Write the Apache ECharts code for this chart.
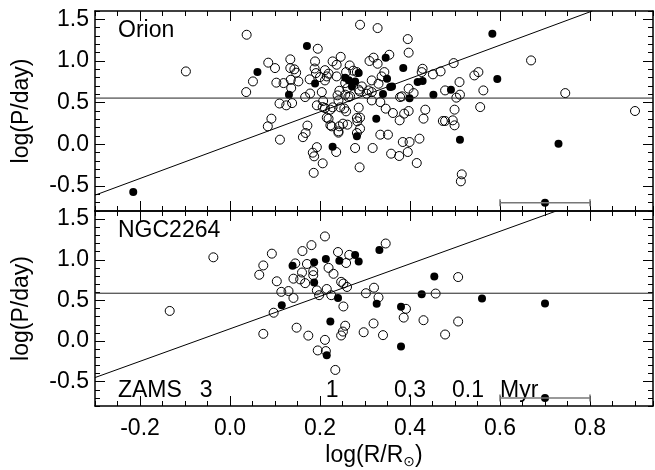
<!DOCTYPE html>
<html>
<head>
<meta charset="utf-8">
<script src="https://cdn.jsdelivr.net/npm/echarts@6/dist/echarts.min.js"></script>
<style>
  html, body { margin: 0; padding: 0; background: #fff; }
  #chart { width: 655px; height: 470px; }
</style>
</head>
<body>
<div id="chart"></div>
<script>
// log(R/Rsun), log(P/day)
const orionOpen = [[-0.098,0.875],[0.037,1.315],[0.036,0.627],[0.051,0.755],[0.085,0.98],[0.1,0.915],[0.103,0.74],[0.119,0.735],[0.134,1.02],[0.134,0.915],[0.143,0.9],[0.147,0.86],[0.135,0.775],[0.152,0.755],[0.136,0.675],[0.11,0.49],[0.125,0.468],[0.138,0.495],[0.092,0.308],[0.084,0.216],[0.111,0.056],[0.172,0.225],[0.168,0.136],[0.162,0.086],[0.193,-0.034],[0.184,-0.1],[0.187,-0.144],[0.206,-0.228],[0.186,-0.342],[0.195,1.147],[0.189,0.995],[0.188,0.91],[0.191,0.855],[0.177,0.78],[0.167,0.567],[0.178,0.61],[0.204,0.627],[0.207,0.52],[0.193,0.468],[0.206,0.447],[0.2,0.807],[0.215,0.32],[0.223,0.228],[0.211,0.435],[0.223,0.416],[0.241,0.156],[0.236,-0.092],[0.246,1.05],[0.237,0.955],[0.228,0.995],[0.266,0.947],[0.274,0.884],[0.211,0.89],[0.215,0.815],[0.237,0.815],[0.219,0.848],[0.211,0.767],[0.256,0.735],[0.261,0.675],[0.243,0.643],[0.239,0.588],[0.256,0.596],[0.267,0.576],[0.228,0.444],[0.245,0.444],[0.254,0.43],[0.226,0.216],[0.243,0.216],[0.261,0.236],[0.251,0.248],[0.282,0.316],[0.282,0.136],[0.278,-0.044],[0.288,-0.276],[0.288,0.636],[0.289,1.435],[0.328,1.395],[0.395,1.263],[0.397,1.1],[0.354,1.075],[0.31,1.0],[0.319,1.04],[0.328,0.967],[0.258,0.867],[0.282,0.867],[0.286,0.656],[0.293,0.695],[0.315,0.767],[0.308,0.647],[0.304,0.607],[0.343,0.867],[0.337,0.815],[0.33,0.727],[0.315,0.627],[0.263,0.567],[0.241,0.527],[0.258,0.396],[0.286,0.44],[0.289,0.32],[0.219,0.308],[0.241,0.14],[0.315,0.527],[0.334,0.507],[0.346,0.428],[0.362,0.376],[0.377,0.288],[0.387,0.368],[0.397,0.4],[0.378,0.567],[0.397,0.668],[0.408,0.615],[0.382,0.576],[0.434,0.416],[0.43,0.308],[0.317,-0.044],[0.334,0.116],[0.351,0.116],[0.358,-0.112],[0.376,-0.14],[0.395,-0.092],[0.384,0.028],[0.399,0.028],[0.421,0.068],[0.415,-0.224],[0.428,0.907],[0.426,0.867],[0.451,0.84],[0.468,0.875],[0.497,0.975],[0.478,0.647],[0.51,0.747],[0.511,0.596],[0.503,0.56],[0.499,0.416],[0.473,0.28],[0.478,0.28],[0.495,0.288],[0.499,0.228],[0.515,-0.36],[0.513,-0.444],[0.543,0.827],[0.552,0.867],[0.563,0.647],[0.556,0.447],[0.669,1.007],[0.745,0.615],[0.9,0.4],[0.289,0.188],[0.283,0.276]];
const orionFilled = [[-0.215,-0.572],[0.061,0.867],[0.131,0.594],[0.171,1.18],[0.189,0.73],[0.228,-0.028],[0.256,0.8],[0.264,0.77],[0.278,0.755],[0.271,0.695],[0.286,0.855],[0.282,0.096],[0.346,1.04],[0.385,0.915],[0.34,0.605],[0.349,0.787],[0.356,0.687],[0.36,0.695],[0.399,0.552],[0.325,0.308],[0.417,0.747],[0.428,0.759],[0.452,0.596],[0.491,0.656],[0.511,0.056],[0.583,1.327],[0.594,0.783],[0.73,0.008]];
const ngcOpen = [[-0.134,0.37],[-0.037,1.03],[0.065,0.815],[0.074,0.93],[0.093,1.075],[0.104,0.735],[0.114,0.605],[0.13,0.615],[0.141,0.53],[0.097,0.348],[0.074,0.088],[0.148,0.164],[0.174,0.066],[0.195,-0.116],[0.211,0.014],[0.213,-0.124],[0.234,-0.356],[0.145,0.955],[0.171,0.948],[0.161,1.107],[0.181,1.18],[0.211,1.287],[0.24,1.095],[0.16,0.843],[0.141,0.767],[0.156,0.758],[0.167,0.712],[0.185,0.86],[0.185,0.81],[0.219,0.9],[0.23,0.827],[0.247,0.728],[0.252,0.707],[0.26,0.665],[0.193,0.623],[0.198,0.564],[0.215,0.64],[0.225,0.564],[0.252,0.425],[0.258,0.96],[0.265,1.06],[0.302,0.588],[0.32,0.656],[0.33,0.536],[0.346,1.2],[0.391,0.396],[0.386,0.288],[0.43,0.256],[0.507,0.24],[0.457,0.584],[0.507,0.787],[0.319,0.216],[0.297,0.108],[0.34,0.072],[0.478,0.08],[0.256,0.188],[0.251,0.116],[0.247,0.068]];
const ngcFilled = [[0.115,0.44],[0.139,0.925],[0.187,0.97],[0.213,1.01],[0.243,0.987],[0.278,1.06],[0.286,0.978],[0.332,1.12],[0.187,0.72],[0.24,0.528],[0.223,0.24],[0.215,-0.175],[0.326,0.459],[0.38,0.423],[0.38,-0.068],[0.426,0.576],[0.454,0.795],[0.56,0.522],[0.7,0.463]];

// reference lines (endpoints) and the typical error bar
const orionFlat = [[-0.3,0.555],[0.94,0.555]];
const orionFit = [[-0.3,-0.61],[0.805,1.6]];
const ngcFlat = [[-0.3,0.588],[0.94,0.588]];
const ngcFit = [[-0.3,-0.45],[0.725,1.6]];
const errBar = [[0.6,-0.7],[0.8,-0.7]];
const errPoint = [[0.7,-0.7]];

// isochrone ages written along the bottom of the NGC2264 panel
const ageText = ['ZAMS', '3', '1', '0.3', '0.1', 'Myr'];
const ageX = [-0.249, -0.053, 0.227, 0.4, 0.529, 0.6];
const ageAlign = ['left', 'center', 'center', 'center', 'center', 'left'];
const ageY = -0.615;

const xTicks = [-0.2, 0.0, 0.2, 0.4, 0.6, 0.8];
const yTicks = [-0.5, 0.0, 0.5, 1.0, 1.5];
const panelNames = ['Orion', 'NGC2264'];

const FONT = 'Liberation Sans, Arial, Helvetica, sans-serif';
const FS = 23;
const black = '#000';

var dom = document.getElementById('chart');
var myChart = echarts.init(dom, null, { renderer: 'canvas' });

function xAxesFor(g) {
  const base = { gridIndex: g, type: 'value', min: -0.3, max: 0.94, splitLine: { show: false } };
  const minor = { inside: true, length: 5, lineStyle: { color: black, width: 1 } };
  const major = { inside: true, length: 10, customValues: xTicks, lineStyle: { color: black, width: 1 } };
  return [
    Object.assign({}, base, {
      position: 'bottom', interval: 0.05,
      axisLine: { onZero: false, lineStyle: { color: black, width: 1.5 } },
      axisTick: minor,
      axisLabel: g === 1 ? {
        customValues: xTicks, fontSize: FS, color: black, fontFamily: FONT, margin: 11,
        formatter: v => v.toFixed(1)
      } : { show: false },
      name: g === 1 ? '{a|log(R/R}{s|⊙}{a|)}' : '',
      nameLocation: 'middle', nameGap: 36,
      nameTextStyle: {
        rich: {
          a: { fontSize: FS, fontFamily: FONT, color: black, lineHeight: 24 },
          s: { fontSize: 14, fontFamily: 'DejaVu Sans', color: black, padding: [13, 0, 0, 0] }
        }
      }
    }),
    Object.assign({}, base, {
      position: 'top', interval: 0.05,
      axisLine: { onZero: false, lineStyle: { color: black, width: 1.5 } },
      axisTick: minor, axisLabel: { show: false }
    }),
    Object.assign({}, base, {
      position: 'bottom', axisLine: { show: false, onZero: false }, axisTick: major, axisLabel: { show: false }
    }),
    Object.assign({}, base, {
      position: 'top', axisLine: { show: false, onZero: false }, axisTick: major, axisLabel: { show: false }
    })
  ];
}

function yAxesFor(g) {
  const base = { gridIndex: g, type: 'value', min: -0.8, max: 1.6, splitLine: { show: false } };
  const minor = { inside: true, length: 5, lineStyle: { color: black, width: 1 } };
  const major = { inside: true, length: 10, customValues: yTicks, lineStyle: { color: black, width: 1 } };
  return [
    Object.assign({}, base, {
      position: 'left', interval: 0.1,
      axisLine: { onZero: false, lineStyle: { color: black, width: 1.5 } },
      axisTick: minor,
      axisLabel: {
        customValues: yTicks, fontSize: FS, color: black, fontFamily: FONT, margin: 6,
        formatter: v => v.toFixed(1)
      },
      name: 'log(P/day)', nameLocation: 'middle', nameRotate: 90, nameGap: 62,
      nameTextStyle: { fontSize: FS, color: black, fontFamily: FONT }
    }),
    Object.assign({}, base, {
      position: 'right', interval: 0.1,
      axisLine: { onZero: false, lineStyle: { color: black, width: 1.5 } },
      axisTick: minor, axisLabel: { show: false }
    }),
    Object.assign({}, base, {
      position: 'left', axisLine: { show: false, onZero: false }, axisTick: major, axisLabel: { show: false }
    }),
    Object.assign({}, base, {
      position: 'right', axisLine: { show: false, onZero: false }, axisTick: major, axisLabel: { show: false }
    })
  ];
}

function lineSeries(g, data, color, width) {
  return {
    type: 'line', xAxisIndex: 4 * g, yAxisIndex: 4 * g, data: data,
    symbol: 'none', silent: true,
    lineStyle: { color: color, width: width }
  };
}

function panelSeries(g, open, filled, flat, fit) {
  return [
    lineSeries(g, flat, '#222', 1),
    lineSeries(g, fit, black, 1),
    {
      type: 'line', xAxisIndex: 4 * g, yAxisIndex: 4 * g, data: errBar,
      symbol: 'rect', symbolSize: [1.5, 7], showSymbol: true,
      itemStyle: { color: '#777' }, lineStyle: { color: '#777', width: 1.5 }
    },
    {
      type: 'scatter', xAxisIndex: 4 * g, yAxisIndex: 4 * g, data: errPoint,
      symbol: 'circle', symbolSize: 8, itemStyle: { color: black, opacity: 1 }
    },
    {
      type: 'scatter', xAxisIndex: 4 * g, yAxisIndex: 4 * g, data: open,
      symbol: 'circle', symbolSize: 9,
      itemStyle: { color: 'rgba(0,0,0,0)', borderColor: black, borderWidth: 1, opacity: 1 }
    },
    {
      type: 'scatter', xAxisIndex: 4 * g, yAxisIndex: 4 * g, data: filled,
      symbol: 'circle', symbolSize: 8, itemStyle: { color: black, opacity: 1 }
    }
  ];
}

const ageSeries = {
  type: 'scatter', xAxisIndex: 4, yAxisIndex: 4, symbolSize: 0, silent: true,
  itemStyle: { opacity: 1 },
  data: ageText.map((t, i) => ({
    name: t, value: [ageX[i], ageY],
    label: { align: ageAlign[i] }
  })),
  label: {
    show: true, position: 'inside', formatter: p => p.name,
    fontSize: FS, color: black, fontFamily: FONT, verticalAlign: 'middle'
  }
};

var option = {
  animation: false,
  backgroundColor: '#fff',
  grid: [
    { left: 95, top: 11, width: 558, height: 200 },
    { left: 95, top: 211, width: 558, height: 200 }
  ],
  xAxis: xAxesFor(0).concat(xAxesFor(1)),
  yAxis: yAxesFor(0).concat(yAxesFor(1)),
  graphic: panelNames.map((t, i) => ({
    type: 'text', x: 118, y: 31 + 200 * i,
    style: { text: t, fontSize: FS, fill: black, fontFamily: FONT, verticalAlign: 'middle' }
  })),
  series: panelSeries(0, orionOpen, orionFilled, orionFlat, orionFit)
    .concat(panelSeries(1, ngcOpen, ngcFilled, ngcFlat, ngcFit))
    .concat([ageSeries])
};

myChart.setOption(option);
window.addEventListener('resize', myChart.resize);
</script>
</body>
</html>
